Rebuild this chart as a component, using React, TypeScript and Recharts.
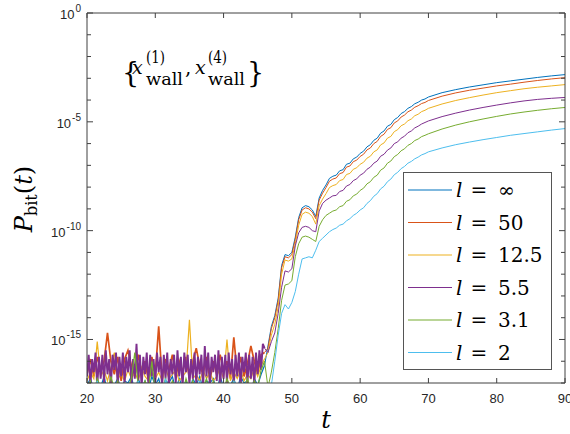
import React from "react";
import { LineChart, Line, XAxis, YAxis, ReferenceLine, Legend } from "recharts";

// P_bit(t) for several l, log10 values.
// noise floor up to t=46 (purple sampled finer, it dominates the floor),
// then the rise (0.5 steps to 70, 2 after)

const tNoise = Array.from({ length: 53 }, (_, i) => 20 + i * 0.5);
const tNoiseFine = Array.from({ length: 105 }, (_, i) => 20 + i * 0.25);
const tRise = [
  46.5, 47, 47.5, 48, 48.5, 49, 49.5, 50, 50.5,
  51, 51.5, 52, 52.5, 53, 53.5, 54, 54.5, 55, 55.5,
  56, 56.5, 57, 57.5, 58, 58.5, 59, 59.5, 60, 60.5,
  61, 61.5, 62, 62.5, 63, 63.5, 64, 64.5, 65, 65.5,
  66, 66.5, 67, 67.5, 68, 68.5, 69, 69.5, 70,
  72, 74, 76, 78, 80, 82, 84, 86, 88, 90,
];

const labels = ["\u221E", "50", "12.5", "5.5", "3.1", "2"];
const keys = ["lInf", "l50", "l12", "l5", "l3", "l2"];
const colors = ["#0072BD", "#D95319", "#EDB120", "#7E2F8E", "#77AC30", "#4DBEEE"];

const noiseInf = [
  -17.1, -16.8, -17.3, -16.9, -17.2, -16.7, -17.4, -16.9, -17.1, -16.8,
  -17.3, -16.9, -17.0, -16.7, -17.4, -16.8, -17.2, -16.9, -17.3, -16.7,
  -17.1, -16.8, -17.4, -16.9, -17.0, -16.7, -17.3, -16.8, -17.2, -16.9,
  -17.4, -16.8, -17.1, -16.7, -17.3, -16.9, -17.0, -16.8, -17.4, -16.7,
  -17.2, -16.9, -17.1, -16.8, -17.3, -16.7, -17.0, -16.9, -17.4, -16.8,
  -17.1, -16.6, -16.2,
];
const noise50 = [
  -16.6, -15.9, -16.7, -15.8, -16.4, -16.0, -14.7, -16.0, -16.6, -15.8,
  -16.9, -15.9, -15.5, -16.2, -16.7, -15.7, -16.5, -16.0, -16.9, -15.8,
  -16.6, -14.4, -16.8, -15.9, -16.4, -15.7, -16.7, -16.0, -16.5, -15.8,
  -16.8, -16.0, -15.4, -16.2, -16.6, -15.8, -16.9, -16.0, -16.6, -15.7,
  -16.5, -16.0, -16.8, -14.9, -16.6, -15.8, -16.7, -16.1, -15.3, -16.0,
  -16.6, -15.7, -15.6,
];
const noise12 = [
  -16.9, -16.5, -16.8, -15.1, -16.7, -16.4, -16.9, -16.3, -15.6, -16.8,
  -16.6, -16.9, -16.4, -16.8, -16.5, -16.9, -16.3, -16.7, -16.9, -16.4,
  -16.8, -16.5, -16.9, -16.3, -16.8, -16.6, -16.4, -16.9, -16.7, -16.5,
  -14.1, -16.8, -16.6, -16.9, -16.4, -16.8, -16.5, -16.9, -16.7, -16.3,
  -16.8, -15.0, -16.9, -16.5, -16.8, -16.4, -16.9, -16.6, -16.8, -16.3,
  -16.7, -16.2, -15.9,
];
const noise5 = [
  -16.7, -15.7, -17.1, -15.9, -16.5, -15.6, -17.2, -15.8, -16.8, -15.7,
  -17.0, -15.5, -16.6, -15.9, -17.1, -15.7, -16.4, -15.6, -17.2, -15.8,
  -16.7, -15.6, -17.0, -15.8, -16.5, -15.5, -17.1, -15.9, -16.8, -15.2,
  -16.9, -15.7, -17.2, -15.8, -16.6, -15.6, -17.1, -15.7, -16.7, -15.9,
  -17.0, -15.6, -16.5, -15.8, -17.2, -15.7, -16.8, -15.6, -17.1, -15.9,
  -16.6, -15.7, -17.0, -15.5, -16.7, -15.8, -17.2, -15.6, -16.5, -15.7,
  -17.1, -15.9, -16.8, -15.6, -17.0, -15.8, -16.6, -15.7, -17.2, -15.3,
  -16.7, -15.6, -17.1, -15.8, -16.5, -15.7, -16.9, -15.5, -17.2, -15.8,
  -16.8, -15.7, -17.0, -15.6, -16.6, -15.9, -17.1, -15.7, -16.7, -15.6,
  -17.2, -15.8, -16.5, -15.6, -17.0, -15.7, -16.8, -15.8, -17.1, -15.6,
  -16.6, -15.5, -16.4, -15.2, -15.4,
];
const noise3 = [
  -17.3, -16.9, -17.5, -16.8, -17.2, -17.0, -17.4, -16.7, -17.3, -16.9,
  -17.5, -17.0, -17.2, -16.8, -15.6, -17.1, -17.4, -16.9, -17.3, -16.0,
  -17.5, -17.0, -17.3, -16.8, -17.4, -16.9, -17.2, -17.0, -17.5, -16.8,
  -17.3, -16.9, -17.4, -17.0, -17.2, -16.8, -17.5, -16.9, -17.3, -17.0,
  -17.4, -16.8, -17.2, -16.9, -17.5, -17.0, -17.3, -16.8, -17.4, -16.9,
  -17.2, -16.4, -16.0,
];
const noise2 = [
  -17.6, -17.2, -17.8, -16.9, -17.5, -17.3, -17.7, -17.1, -17.6, -17.2,
  -17.8, -17.0, -17.5, -17.3, -17.7, -16.9, -17.6, -17.2, -17.8, -17.1,
  -17.5, -17.3, -17.7, -16.8, -17.6, -17.2, -17.8, -17.0, -17.5, -17.3,
  -17.7, -17.1, -17.6, -16.9, -17.8, -17.2, -17.5, -17.3, -17.7, -17.0,
  -17.6, -17.2, -17.8, -16.9, -17.5, -17.3, -17.7, -17.1, -17.6, -17.2,
  -17.8, -17.3, -17.6,
];

const riseInf = [
  -15.3, -14.4, -13.9, -13.1, -11.6, -11.1, -11.15, -11.0, -10.3,
  -9.4, -8.95, -8.85, -8.9, -9.05, -9.35, -8.5, -8.15, -7.9, -7.6,
  -7.5, -7.45, -7.25, -7.2, -6.95, -6.9, -6.7, -6.62, -6.45, -6.35,
  -6.15, -6.05, -5.85, -5.75, -5.52, -5.42, -5.2, -5.12, -4.9, -4.8,
  -4.62, -4.53, -4.38, -4.3, -4.17, -4.1, -4.0, -3.95, -3.86,
  -3.66, -3.52, -3.4, -3.3, -3.2, -3.12, -3.04, -2.96, -2.89, -2.83,
];
const rise50 = [
  -15.4, -14.5, -14.0, -13.2, -11.7, -11.2, -11.25, -11.1, -10.4,
  -9.5, -9.05, -8.95, -9.0, -9.15, -9.45, -8.6, -8.28, -8.02, -7.73,
  -7.63, -7.58, -7.38, -7.33, -7.08, -7.03, -6.83, -6.76, -6.59, -6.49,
  -6.29, -6.2, -6.0, -5.9, -5.67, -5.57, -5.35, -5.27, -5.05, -4.96,
  -4.78, -4.69, -4.54, -4.46, -4.33, -4.26, -4.16, -4.11, -4.02,
  -3.82, -3.67, -3.55, -3.45, -3.35, -3.27, -3.18, -3.1, -3.03, -2.97,
];
const rise12 = [
  -15.6, -14.8, -14.3, -13.5, -12.0, -11.35, -11.4, -11.3, -10.6,
  -9.75, -9.25, -9.15, -9.2, -9.35, -9.7, -8.85, -8.55, -8.3, -8.02,
  -7.93, -7.88, -7.7, -7.65, -7.42, -7.37, -7.18, -7.11, -6.95, -6.86,
  -6.67, -6.58, -6.38, -6.29, -6.06, -5.97, -5.75, -5.67, -5.45, -5.36,
  -5.18, -5.1, -4.95, -4.87, -4.72, -4.65, -4.53, -4.47, -4.38,
  -4.18, -4.02, -3.89, -3.77, -3.66, -3.57, -3.48, -3.41, -3.35, -3.29,
];
const rise5 = [
  -15.6, -15.1, -14.7, -13.8, -12.6, -11.85, -11.9, -11.75, -10.7,
  -10.1, -9.85, -9.8, -9.85, -10.0, -10.05, -9.1, -8.75, -8.6, -8.5,
  -8.4, -8.38, -8.2, -8.15, -7.95, -7.88, -7.7, -7.62, -7.45, -7.36,
  -7.18, -7.08, -6.9, -6.8, -6.58, -6.49, -6.3, -6.2, -6.0, -5.92,
  -5.75, -5.66, -5.5, -5.42, -5.28, -5.2, -5.1, -5.03, -4.96,
  -4.76, -4.6, -4.46, -4.34, -4.23, -4.13, -4.04, -3.97, -3.92, -3.88,
];
const rise3 = [
  -17.2, -16.5, -15.6, -14.5, -13.2, -12.5, -12.45, -12.3, -11.2,
  -10.6, -10.3, -10.25, -10.3, -10.4, -10.5, -9.8, -9.5, -9.3, -9.2,
  -9.1, -9.05, -8.9, -8.85, -8.65, -8.58, -8.4, -8.32, -8.15, -8.05,
  -7.85, -7.75, -7.55, -7.45, -7.22, -7.12, -6.9, -6.8, -6.6, -6.5,
  -6.33, -6.24, -6.08, -6.0, -5.86, -5.79, -5.68, -5.62, -5.55,
  -5.33, -5.15, -5.0, -4.87, -4.75, -4.64, -4.55, -4.47, -4.4, -4.34,
];
const rise2 = [
  -17.5, -17.1, -16.0, -14.8, -13.8, -13.4, -13.6, -13.3, -12.8,
  -12.0, -11.3, -11.25, -11.2, -11.25, -10.9, -10.5, -10.35, -10.2, -10.05,
  -9.95, -9.88, -9.75, -9.7, -9.55, -9.45, -9.3, -9.2, -9.05, -8.95,
  -8.75, -8.62, -8.42, -8.3, -8.08, -7.96, -7.75, -7.63, -7.43, -7.32,
  -7.15, -7.05, -6.9, -6.82, -6.7, -6.62, -6.52, -6.46, -6.38,
  -6.2, -6.05, -5.93, -5.82, -5.72, -5.62, -5.54, -5.46, -5.38, -5.31,
];

const xTicks = [20, 30, 40, 50, 60, 70, 80, 90];
const yExps = [-17, -16, -15, -14, -13, -12, -11, -10, -9, -8, -7, -6, -5, -4, -3, -2, -1, 0];

const noiseSets = [noiseInf, noise50, noise12, noise5, noise3, noise2];
const riseSets = [riseInf, rise50, rise12, rise5, rise3, rise2];
const names = labels.map((v) => `l = ${v}`);

// noise floor and rise kept as two segments per series (the floor is drawn a bit heavier)
const noisePts = noiseSets.map((logs) => {
  const ts = logs.length === tNoiseFine.length ? tNoiseFine : tNoise;
  return ts.map((t, i) => ({ t, p: Math.pow(10, logs[i]) }));
});
const risePts = riseSets.map((logs, j) => [
  noisePts[j][noisePts[j].length - 1],
  ...tRise.map((t, i) => ({ t, p: Math.pow(10, logs[i]) })),
]);
const yTicks = yExps.map((e) => Math.pow(10, e));

const PLOT = { left: 87, right: 565, top: 13, bottom: 383 };
const AXIS = "#404040";
const SANS = "'Liberation Sans', Arial, sans-serif";
const SERIF = "'DejaVu Serif', serif";

function XTick(props: any) {
  const { x, y, payload } = props;
  const cx = payload.coordinate;
  return (
    <g>
      <line x1={cx} x2={cx} y1={PLOT.bottom} y2={PLOT.bottom - 5} stroke={AXIS} />
      <line x1={cx} x2={cx} y1={PLOT.top} y2={PLOT.top + 5} stroke={AXIS} />
      <text x={x} y={y + 12} textAnchor="middle" fontFamily={SANS} fontSize={13} fill="#262626">
        {payload.value}
      </text>
    </g>
  );
}

function YTick(props: any) {
  const { x, y, payload } = props;
  const cy = payload.coordinate;
  const e = Math.round(Math.log10(payload.value));
  const major = e % 5 === 0;
  const len = major ? 6 : 4;
  return (
    <g>
      <line x1={PLOT.left} x2={PLOT.left + len} y1={cy} y2={cy} stroke={AXIS} />
      <line x1={PLOT.right} x2={PLOT.right - len} y1={cy} y2={cy} stroke={AXIS} />
      {major && (
        <text x={x + 2} y={y + 6} textAnchor="end" fontFamily={SANS} fontSize={13} fill="#262626">
          10
          <tspan dx={1} dy={-7} fontSize={10}>{e === 0 ? "0" : `-${-e}`}</tspan>
        </text>
      )}
    </g>
  );
}

function renderLegend(props: any) {
  const payload = [...(props.payload || [])]
    .filter((p: any) => names.includes(p.value))
    .sort((a: any, b: any) => names.indexOf(a.value) - names.indexOf(b.value));
  return (
    <div style={{ width: 149, height: 198, border: "1px solid #555", background: "#fff", boxSizing: "border-box" }}>
      <svg width={147} height={196}>
        {payload.map((p: any, i: number) => {
          const cy = 17 + i * 32.5;
          const val = String(p.value).split(" = ")[1];
          return (
            <g key={i} fontFamily={SERIF} fontSize={20} fill="#000">
              <line x1={4} x2={48} y1={cy} y2={cy} stroke={p.color} strokeWidth={1.2} />
              <text x={52} y={cy + 7} fontStyle="italic">l</text>
              <text x={75} y={cy + 7} textAnchor="middle">=</text>
              <text x={94} y={cy + 7}>{val}</text>
            </g>
          );
        })}
      </svg>
    </div>
  );
}

export default function App() {
  return (
    <div style={{ position: "absolute", left: 0, top: 0, width: 570, height: 434, background: "#fff" }}>
      <LineChart width={570} height={434} margin={{ top: PLOT.top, right: 570 - PLOT.right, bottom: 0, left: 0 }}>
        <XAxis
          dataKey="t"
          type="number"
          domain={[20, 90]}
          ticks={xTicks}
          allowDataOverflow
          height={434 - PLOT.bottom}
          tickLine={false}
          axisLine={{ stroke: AXIS }}
          tick={<XTick />}
          interval={0}
        />
        <YAxis
          type="number"
          scale="log"
          domain={[1e-17, 1]}
          ticks={yTicks}
          allowDataOverflow
          width={PLOT.left}
          tickLine={false}
          axisLine={{ stroke: AXIS }}
          tick={<YTick />}
          interval={0}
        />
        {keys.flatMap((k, i) => [
          <Line
            key={`${k}-floor`}
            data={noisePts[i]}
            type="linear"
            dataKey="p"
            name={`${k} floor`}
            legendType="none"
            stroke={colors[i]}
            strokeWidth={i === 3 ? 1.9 : i === 1 ? 1.7 : 1.2}
            dot={false}
            isAnimationActive={false}
          />,
          <Line
            key={k}
            data={risePts[i]}
            type="linear"
            dataKey="p"
            name={names[i]}
            stroke={colors[i]}
            strokeWidth={1}
            dot={false}
            isAnimationActive={false}
          />,
        ])}
        <ReferenceLine y={1} stroke={AXIS} />
        <ReferenceLine x={90} stroke={AXIS} />
        <Legend
          layout="vertical"
          align="center"
          verticalAlign="middle"
          content={renderLegend}
          wrapperStyle={{ left: 403, top: 172, width: 149, height: 198 }}
        />
      </LineChart>
      <svg width={570} height={434} style={{ position: "absolute", left: 0, top: 0, pointerEvents: "none" }}>
        <text transform="translate(32,199) rotate(-90)" textAnchor="middle" fontFamily={SERIF} fontSize={24} fill="#000">
          <tspan fontStyle="italic">P</tspan>
          <tspan fontSize={16} dy={5}>bit</tspan>
          <tspan dy={-5}>(</tspan>
          <tspan fontStyle="italic">t</tspan>
          <tspan>)</tspan>
        </text>
        <text x={326} y={428} textAnchor="middle" fontFamily={SERIF} fontSize={24} fontStyle="italic" fill="#000">t</text>
        <g fontFamily={SERIF} fill="#000">
          <text x={122} y={82} fontSize={27}>{"{"}</text>
          <text x={132} y={74} fontSize={19} fontStyle="italic">x</text>
          <text x={146} y={63} fontSize={16} textLength={19} lengthAdjust="spacingAndGlyphs">(1)</text>
          <text x={146} y={85} fontSize={17} textLength={37} lengthAdjust="spacingAndGlyphs">wall</text>
          <text x={185} y={74} fontSize={20}>,</text>
          <text x={195} y={74} fontSize={19} fontStyle="italic">x</text>
          <text x={208} y={63} fontSize={16} textLength={19} lengthAdjust="spacingAndGlyphs">(4)</text>
          <text x={208} y={85} fontSize={17} textLength={37} lengthAdjust="spacingAndGlyphs">wall</text>
          <text x={247} y={82} fontSize={27}>{"}"}</text>
        </g>
      </svg>
    </div>
  );
}
